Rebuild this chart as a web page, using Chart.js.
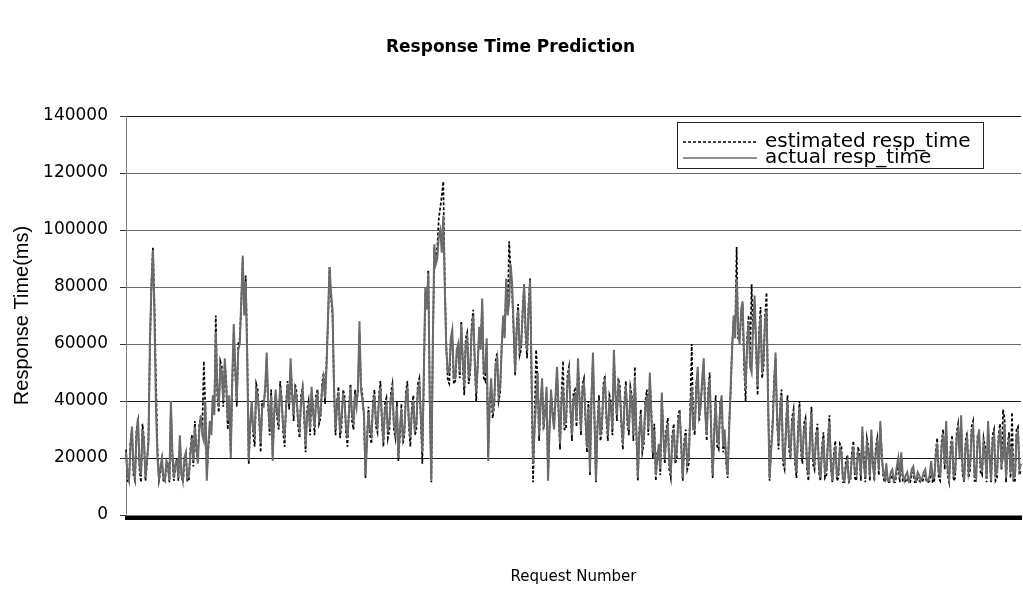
<!DOCTYPE html>
<html>
<head>
<meta charset="utf-8">
<title>Response Time Prediction</title>
<script src="https://cdn.jsdelivr.net/npm/chart.js@4.4.1/dist/chart.umd.min.js"></script>
<style>
  body { margin: 0; background: #fff; }
  #wrap { width: 1023px; height: 592px; }
</style>
</head>
<body>
<div id="wrap"><canvas id="rtChart"></canvas></div>
<script>
// response times in ms (599 samples across the run)
const actualResp = [
  22000, 14000, 12000, 24000, 31000, 16000, 13000, 28000, 34000, 18000, 14000, 30000, 26000, 13000, 19000, 25000, 62000, 80000, 93000, 70000,
  38000, 20000, 13000, 17000, 20000, 13000, 12000, 19000, 18000, 12000, 40000, 22000, 13000, 18000, 19000, 13000, 28000, 15000, 12000, 20000,
  22000, 13000, 14000, 21000, 27000, 19000, 31000, 24000, 18000, 30000, 35000, 28000, 26000, 40000, 12000, 25000, 33000, 28000, 42000, 35000,
  64000, 45000, 38000, 52000, 50000, 40000, 55000, 45000, 33000, 42000, 20000, 48000, 67000, 52000, 40000, 58000, 60000, 75000, 91000, 70000,
  82000, 55000, 19000, 33000, 40000, 30000, 28000, 44000, 42000, 35000, 25000, 38000, 38000, 45000, 57000, 40000, 30000, 42000, 19000, 36000,
  44000, 36000, 33000, 45000, 40000, 31000, 28000, 38000, 46000, 39000, 55000, 42000, 35000, 44000, 41000, 33000, 30000, 40000, 44000, 37000,
  24000, 35000, 38000, 30000, 45000, 36000, 31000, 40000, 42000, 34000, 36000, 44000, 48000, 41000, 52000, 70000, 87000, 78000, 72000, 45000,
  30000, 38000, 43000, 29000, 34000, 42000, 40000, 31000, 27000, 36000, 45000, 35000, 33000, 42000, 38000, 45000, 68000, 44000, 40000, 36000,
  14000, 25000, 36000, 30000, 28000, 38000, 42000, 33000, 31000, 40000, 45000, 34000, 26000, 37000, 39000, 29000, 33000, 41000, 44000, 32000,
  29000, 38000, 20000, 30000, 37000, 27000, 30000, 41000, 45000, 33000, 27000, 36000, 40000, 30000, 32000, 44000, 46000, 35000, 22000, 50000,
  80000, 72000, 85000, 40000, 12000, 60000, 95000, 88000, 90000, 98000, 100000, 92000, 105000, 80000, 58000, 50000, 50000, 62000, 65000, 48000,
  48000, 58000, 60000, 50000, 67000, 55000, 45000, 60000, 62000, 48000, 52000, 65000, 70000, 55000, 43000, 52000, 66000, 58000, 76000, 50000,
  50000, 62000, 19000, 40000, 48000, 36000, 40000, 52000, 55000, 42000, 45000, 58000, 70000, 62000, 83000, 70000, 75000, 88000, 81000, 66000,
  50000, 64000, 72000, 58000, 60000, 70000, 81000, 65000, 58000, 72000, 82000, 50000, 18000, 30000, 40000, 50000, 28000, 38000, 48000, 32000,
  35000, 45000, 12000, 30000, 44000, 35000, 30000, 42000, 52000, 38000, 25000, 40000, 45000, 32000, 33000, 47000, 50000, 38000, 28000, 41000,
  42000, 33000, 55000, 40000, 30000, 44000, 46000, 35000, 24000, 38000, 15000, 40000, 57000, 35000, 12000, 30000, 40000, 28000, 32000, 44000,
  47000, 35000, 28000, 40000, 38000, 30000, 58000, 42000, 35000, 46000, 43000, 33000, 25000, 38000, 45000, 34000, 30000, 43000, 40000, 28000,
  48000, 30000, 13000, 28000, 35000, 24000, 27000, 38000, 42000, 30000, 50000, 35000, 22000, 30000, 14000, 20000, 25000, 16000, 43000, 28000,
  20000, 28000, 32000, 18000, 15000, 26000, 30000, 20000, 22000, 33000, 35000, 25000, 13000, 24000, 28000, 18000, 20000, 35000, 45000, 30000,
  30000, 44000, 52000, 35000, 38000, 48000, 55000, 36000, 28000, 42000, 48000, 30000, 14000, 28000, 40000, 26000, 25000, 38000, 42000, 24000,
  30000, 20000, 14000, 30000, 45000, 58000, 70000, 62000, 83000, 65000, 60000, 72000, 75000, 55000, 44000, 60000, 68000, 52000, 50000, 66000,
  77000, 60000, 45000, 62000, 70000, 50000, 55000, 68000, 72000, 40000, 13000, 22000, 30000, 45000, 57000, 35000, 25000, 36000, 42000, 20000,
  18000, 30000, 40000, 25000, 22000, 32000, 35000, 20000, 15000, 28000, 38000, 24000, 20000, 30000, 32000, 18000, 14000, 26000, 36000, 20000,
  18000, 26000, 30000, 17000, 13000, 22000, 27000, 15000, 16000, 25000, 33000, 18000, 12000, 20000, 24000, 14000, 15000, 23000, 22000, 13000,
  12000, 17000, 19000, 12000, 13000, 20000, 24000, 15000, 14000, 22000, 20000, 14000, 31000, 18000, 13000, 25000, 22000, 14000, 30000, 17000,
  14000, 22000, 25000, 16000, 33000, 20000, 15000, 13000, 18000, 12000, 12000, 15000, 16000, 12000, 13000, 17000, 20000, 13000, 22000, 14000,
  12000, 14000, 15000, 12000, 13000, 16000, 17000, 13000, 12000, 15000, 14000, 12000, 13000, 15000, 16000, 12000, 12000, 14000, 19000, 13000,
  13000, 20000, 25000, 15000, 14000, 24000, 28000, 18000, 33000, 16000, 13000, 22000, 26000, 14000, 15000, 27000, 30000, 20000, 35000, 16000,
  12000, 24000, 27000, 15000, 18000, 29000, 31000, 14000, 13000, 26000, 30000, 17000, 16000, 25000, 22000, 13000, 33000, 20000, 12000, 26000,
  28000, 14000, 15000, 26000, 30000, 18000, 20000, 32000, 13000, 22000, 27000, 15000, 24000, 13000, 14000, 28000, 29000, 16000, 18000
];

const estimatedResp = [
  23000, 12000, 11500, 26000, 30000, 14000, 12000, 30000, 33000, 16000, 11500, 32000, 27000, 12000, 18000, 27000, 58000, 82000, 94000, 75000,
  48000, 24000, 12000, 15000, 19000, 12000, 11500, 18000, 17000, 11500, 38000, 20000, 12000, 17000, 20000, 12000, 27000, 14000, 11500, 18000,
  21000, 12000, 12000, 23000, 28000, 17000, 33000, 22000, 20000, 32000, 34000, 30000, 54000, 38000, 14000, 23000, 30000, 30000, 40000, 37000,
  70000, 42000, 36000, 54000, 52000, 38000, 53000, 47000, 30000, 40000, 22000, 46000, 64000, 50000, 38000, 60000, 62000, 73000, 90000, 72000,
  84000, 58000, 18000, 31000, 38000, 28000, 24000, 46000, 44000, 33000, 22000, 40000, 40000, 43000, 55000, 38000, 28000, 44000, 21000, 34000,
  42000, 34000, 30000, 47000, 41000, 29000, 24000, 40000, 47000, 37000, 52000, 44000, 33000, 46000, 43000, 31000, 27000, 42000, 45000, 35000,
  22000, 37000, 40000, 28000, 43000, 38000, 28000, 42000, 44000, 32000, 34000, 46000, 50000, 39000, 54000, 68000, 87000, 76000, 70000, 43000,
  28000, 40000, 45000, 27000, 31000, 44000, 42000, 29000, 24000, 38000, 46000, 33000, 30000, 44000, 40000, 43000, 64000, 46000, 42000, 34000,
  13000, 27000, 38000, 28000, 25000, 40000, 44000, 31000, 29000, 42000, 47000, 32000, 24000, 39000, 41000, 27000, 30000, 43000, 46000, 30000,
  27000, 40000, 19000, 28000, 39000, 25000, 28000, 43000, 47000, 31000, 24000, 38000, 42000, 28000, 30000, 46000, 48000, 33000, 18000, 48000,
  78000, 74000, 86000, 38000, 11500, 58000, 92000, 90000, 94000, 104000, 108000, 112000, 117000, 82000, 60000, 47000, 46000, 60000, 62000, 46000,
  47000, 56000, 58000, 48000, 68000, 53000, 42000, 62000, 64000, 46000, 50000, 67000, 72000, 53000, 40000, 54000, 64000, 60000, 74000, 48000,
  47000, 60000, 21000, 38000, 45000, 34000, 38000, 54000, 57000, 40000, 43000, 60000, 68000, 64000, 80000, 72000, 96000, 86000, 78000, 64000,
  49000, 66000, 74000, 56000, 58000, 72000, 80000, 63000, 55000, 74000, 83000, 45000, 11500, 32000, 58000, 48000, 26000, 40000, 46000, 30000,
  37000, 43000, 13000, 32000, 42000, 37000, 32000, 40000, 50000, 36000, 23000, 42000, 54000, 30000, 30000, 49000, 52000, 36000, 26000, 43000,
  44000, 31000, 53000, 42000, 28000, 46000, 48000, 33000, 22000, 40000, 14000, 42000, 55000, 33000, 11500, 32000, 42000, 26000, 30000, 46000,
  49000, 33000, 26000, 42000, 40000, 28000, 55000, 44000, 33000, 48000, 45000, 31000, 23000, 40000, 47000, 32000, 28000, 45000, 42000, 26000,
  52000, 28000, 12000, 30000, 37000, 22000, 25000, 40000, 44000, 28000, 48000, 37000, 20000, 32000, 12000, 22000, 23000, 14000, 41000, 30000,
  18000, 30000, 34000, 16000, 13000, 28000, 32000, 18000, 20000, 35000, 37000, 23000, 12000, 26000, 30000, 16000, 18000, 37000, 60000, 32000,
  28000, 46000, 50000, 33000, 40000, 46000, 53000, 38000, 26000, 44000, 50000, 28000, 13000, 30000, 42000, 24000, 23000, 40000, 40000, 22000,
  28000, 18000, 13000, 32000, 43000, 60000, 68000, 64000, 94000, 62000, 62000, 70000, 72000, 52000, 40000, 62000, 70000, 55000, 81000, 64000,
  74000, 58000, 42000, 64000, 73000, 48000, 52000, 70000, 78000, 42000, 12000, 24000, 32000, 47000, 55000, 33000, 23000, 38000, 44000, 18000,
  16000, 32000, 42000, 23000, 20000, 34000, 37000, 18000, 13000, 30000, 40000, 22000, 18000, 32000, 34000, 16000, 12000, 28000, 38000, 18000,
  16000, 28000, 32000, 15000, 12000, 24000, 29000, 13000, 14000, 27000, 35000, 16000, 11500, 22000, 26000, 12000, 13000, 25000, 24000, 11500,
  11500, 19000, 21000, 11500, 12000, 22000, 26000, 13000, 12000, 24000, 22000, 12000, 29000, 20000, 11500, 27000, 24000, 12000, 28000, 19000,
  12000, 24000, 27000, 14000, 31000, 22000, 13000, 11500, 16000, 11500, 11500, 13000, 14000, 11500, 11500, 15000, 18000, 11500, 20000, 12000,
  11500, 12000, 13000, 11500, 11500, 14000, 15000, 11500, 11500, 13000, 12000, 11500, 11500, 13000, 14000, 11500, 11500, 12000, 17000, 11500,
  11500, 22000, 27000, 13000, 12000, 26000, 30000, 16000, 31000, 14000, 11500, 24000, 28000, 12000, 13000, 29000, 32000, 22000, 33000, 14000,
  11500, 26000, 29000, 13000, 16000, 31000, 33000, 12000, 12000, 28000, 28000, 15000, 14000, 27000, 24000, 11500, 31000, 22000, 11500, 28000,
  30000, 12000, 13000, 28000, 32000, 16000, 37000, 34000, 11500, 24000, 29000, 13000, 36000, 11500, 12000, 30000, 31000, 14000, 16000
];

// request numbers along the x axis
const requestNumbers = actualResp.map((v, i) => i + 1);

const yMin = 0;
const yMax = 140000;
const yStep = 20000;

// legend with a frame, drawn inside the plot like the original
const boxLegend = {
  id: 'boxLegend',
  afterDatasetsDraw(chart, args, opts) {
    const ctx = chart.ctx;
    ctx.save();
    ctx.fillStyle = '#fff';
    ctx.fillRect(opts.x, opts.y, opts.w, opts.h);
    ctx.strokeStyle = '#222';
    ctx.lineWidth = 1;
    ctx.strokeRect(opts.x + 0.5, opts.y + 0.5, opts.w, opts.h);
    ctx.font = opts.font;
    ctx.textBaseline = 'middle';
    chart.data.datasets.forEach(function(ds, i) {
      let y = opts.y + opts.firstRow + i * opts.rowGap;
      ctx.strokeStyle = ds.borderColor;
      ctx.lineWidth = 1.5;
      ctx.setLineDash(ds.borderDash || []);
      ctx.beginPath();
      ctx.moveTo(opts.x + 6, y);
      ctx.lineTo(opts.x + 80, y);
      ctx.stroke();
      ctx.setLineDash([]);
      ctx.fillStyle = '#000';
      ctx.fillText(ds.label, opts.x + 88, y);
    });
    ctx.restore();
  }
};

Chart.defaults.font.family = "'DejaVu Sans', sans-serif";
Chart.defaults.color = '#000';

let ctx = document.getElementById('rtChart').getContext('2d');
let chart = new Chart(ctx, {
  type: 'line',
  data: {
    labels: requestNumbers,
    datasets: [{
      label: 'estimated resp_time',
      data: estimatedResp,
      borderColor: '#000',
      borderWidth: 1.7,
      borderDash: [3, 2],
      pointRadius: 0,
      tension: 0,
      order: 1
    }, {
      label: 'actual resp_time',
      data: actualResp,
      borderColor: '#6b6b6b',
      borderWidth: 2,
      pointRadius: 0,
      tension: 0,
      order: 0
    }]
  },
  options: {
    responsive: true,
    maintainAspectRatio: false,
    devicePixelRatio: 1,
    animation: false,
    layout: { padding: { left: 0, right: 2, top: 0, bottom: 0 } },
    plugins: {
      legend: { display: false },
      tooltip: { enabled: false },
      title: {
        display: true,
        text: 'Response Time Prediction',
        color: '#000',
        font: { size: 17, weight: 'bold' },
        padding: { top: 37, bottom: 58.6 }
      },
      boxLegend: {
        x: 677, y: 122, w: 306, h: 46,
        firstRow: 20, rowGap: 16,
        font: "20px 'DejaVu Sans', sans-serif"
      }
    },
    scales: {
      x: {
        type: 'category',
        offset: false,
        grid: {
          display: true,
          drawOnChartArea: false,
          drawTicks: true,
          tickLength: 5,
          lineWidth: 2,
          color: '#000'
        },
        border: { display: true, color: '#808080', width: 1 },
        ticks: { display: false },
        title: {
          display: true,
          text: 'Request Number',
          font: { size: 15 },
          padding: { top: 0, bottom: 6 }
        },
        afterFit: function(scale) { scale.height = 77; }
      },
      y: {
        min: yMin,
        max: yMax,
        ticks: {
          stepSize: yStep,
          padding: 12,
          font: { size: 17 },
          callback: function(v) { return String(v); }
        },
        grid: {
          drawTicks: true,
          tickLength: 6,
          lineWidth: 1,
          tickColor: '#333',
          color: function(c) {
            let v = c.tick ? c.tick.value : 0;
            return (v === 140000 || v <= 40000) ? '#1a1a1a' : '#6a6a6a';
          }
        },
        border: { display: true, color: '#808080', width: 1 },
        title: {
          display: true,
          text: 'Response Time(ms)',
          font: { family: "'Liberation Sans', Arial, sans-serif", size: 20 },
          padding: { top: 10, bottom: 0 }
        },
        afterFit: function(scale) { scale.width = 126; }
      }
    }
  },
  plugins: [boxLegend]
});
</script>
</body>
</html>
